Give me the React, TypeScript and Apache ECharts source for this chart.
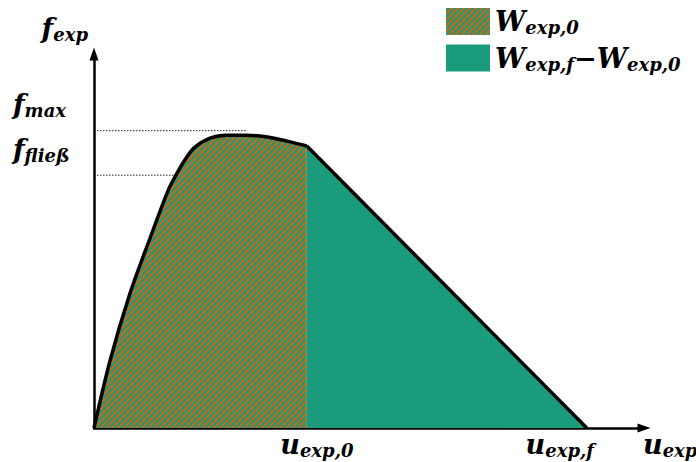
import React, { useEffect, useRef } from 'react';
import * as echarts from 'echarts';

// curve (displacement u, force f) up to u_exp,0
const curveU = [0, 0.29, 0.65, 1.02, 1.35, 1.49, 1.64, 1.82, 2.11, 2.42, 2.78, 3.15, 3.51, 3.87];
const curveF = [0, 1.79, 3.58, 5.08, 6.36, 6.76, 7.14, 7.49, 7.75, 7.83, 7.83, 7.78, 7.67, 7.54];
// softening branch
const softU = [3.87, 8.96];
const softF = [7.54, 0];
// reference levels
const fMax = 7.95;
const fMaxU = 2.78;
const fFliess = 6.76;
const fFliessU = 1.49;
// tick labels
const xTickValues = [3.87, 8.96];
const xTickSubs = ['exp,0', 'exp,f'];
const yTickValues = [6.76, 7.95];
const yTickSubs = ['fließ', 'max'];
const seriesNames = ['W_exp,0', 'W_exp,f-W_exp,0'];

const TEAL = '#1a9b7c';
const ORANGE = '#c96a14';
const FONT = 'DejaVu Serif';

function makePattern() {
  const s = 6;
  const c = document.createElement('canvas');
  c.width = s;
  c.height = s;
  const ctx = c.getContext('2d')!;
  ctx.fillStyle = TEAL;
  ctx.fillRect(0, 0, s, s);
  ctx.strokeStyle = ORANGE;
  ctx.lineWidth = 2;
  for (const k of [0, s, 2 * s]) {
    ctx.beginPath();
    ctx.moveTo(k - s - 1, s + 1);
    ctx.lineTo(k + 1, -1);
    ctx.stroke();
  }
  return { image: c.toDataURL(), repeat: 'repeat', imageWidth: s, imageHeight: s } as any;
}

const main = { fontSize: 27, fontWeight: 'bold', fontStyle: 'italic', fontFamily: FONT, color: '#000', lineHeight: 30 } as any;
const sub = { fontSize: 18, fontWeight: 'bold', fontStyle: 'italic', fontFamily: FONT, color: '#000', lineHeight: 20, verticalAlign: 'bottom' } as any;
const rich = { m: main, s: sub, pl: { width: 20 }, pr: { width: 54 } };

export default function App() {
  const ref = useRef<HTMLDivElement>(null);
  useEffect(() => {
    document.body.style.margin = '0';
    const chart = echarts.init(ref.current!, null, { renderer: 'svg' });
    const pattern = makePattern();
    const curveData = curveU.map((u, i) => [u, curveF[i]]);
    const softData = softU.map((u, i) => [u, softF[i]]);
    const nearest = (arr: number[], v: number) => {
      let best = 0;
      arr.forEach((a, i) => { if (Math.abs(a - v) < Math.abs(arr[best] - v)) best = i; });
      return best;
    };
    chart.setOption({
      animation: false,
      grid: { left: 94, right: 52, top: 54, bottom: 34, outerBoundsMode: 'none' },
      legend: {
        orient: 'vertical',
        left: 441,
        top: 3,
        itemWidth: 44,
        itemHeight: 27,
        itemGap: 8,
        selectedMode: false,
        data: [
          { name: seriesNames[0], icon: 'rect', itemStyle: { color: pattern, borderWidth: 0 } },
          { name: seriesNames[1], icon: 'rect', itemStyle: { color: TEAL, borderWidth: 0 } },
        ],
        formatter: (name: string) =>
          name === seriesNames[0] ? '{m|W}{s|exp,0}' : '{m|W}{s|exp,f}{m|−W}{s|exp,0}',
        textStyle: { rich, padding: [0, 0, 0, 0] },
      },
      xAxis: {
        type: 'value',
        min: 0,
        max: 10,
        splitLine: { show: false },
        axisTick: { show: false },
        axisLine: { lineStyle: { color: '#000', width: 2.5 }, symbol: ['none', 'triangle'], symbolSize: [9, 13] },
        axisLabel: {
          customValues: xTickValues,
          margin: 1,
          formatter: (v: number) => {
            const i = nearest(xTickValues, v);
            return i === 0 ? `{pl|}{m|u}{s|${xTickSubs[i]}}` : `{m|u}{s|${xTickSubs[i]}}{pr|}`;
          },
          rich,
        },
        name: '{m|u}{s|exp}',
        nameLocation: 'end',
        nameGap: -1,
        nameTextStyle: { rich, verticalAlign: 'top', align: 'left', padding: [1, 0, 0, 0] },
      },
      yAxis: {
        type: 'value',
        min: 0,
        max: 10,
        splitLine: { show: false },
        axisTick: { show: false },
        axisLine: { lineStyle: { color: '#000', width: 2.5 }, symbol: ['none', 'triangle'], symbolSize: [9, 13] },
        axisLabel: {
          customValues: yTickValues,
          margin: 81,
          align: 'left',
          verticalAlign: 'bottom',
          padding: [0, 0, 11, 0],
          formatter: (v: number) => `{m|f}{s|${yTickSubs[nearest(yTickValues, v)]}}`,
          rich,
        },
        name: '{m|f}{s|exp}',
        nameLocation: 'end',
        nameGap: 11,
        nameTextStyle: { rich, align: 'right', verticalAlign: 'bottom', padding: [0, 6, 0, 0] },
      },
      series: [
        {
          type: 'line',
          name: 'fmax-ref',
          data: [[0, fMax], [fMaxU, fMax]],
          symbol: 'none',
          lineStyle: { color: '#222', width: 1, type: [1.5, 1.5] },
          z: 1,
        },
        {
          type: 'line',
          name: 'ffliess-ref',
          data: [[0, fFliess], [fFliessU, fFliess]],
          symbol: 'none',
          lineStyle: { color: '#222', width: 1, type: [1.5, 1.5] },
          z: 1,
        },
        {
          type: 'line',
          name: seriesNames[1],
          data: softData,
          symbol: 'none',
          lineStyle: { color: '#000', width: 3.5 },
          itemStyle: { color: TEAL },
          areaStyle: { color: TEAL, opacity: 1 },
          z: 2,
        },
        {
          type: 'line',
          name: seriesNames[0],
          data: curveData,
          smooth: 0.3,
          symbol: 'none',
          lineStyle: { color: '#000', width: 3.5, join: 'round' },
          itemStyle: { color: TEAL },
          areaStyle: { color: pattern, opacity: 1 },
          z: 3,
        },
      ],
    });
    return () => chart.dispose();
  }, []);
  return <div ref={ref} style={{ width: 696, height: 462 }} />;
}
